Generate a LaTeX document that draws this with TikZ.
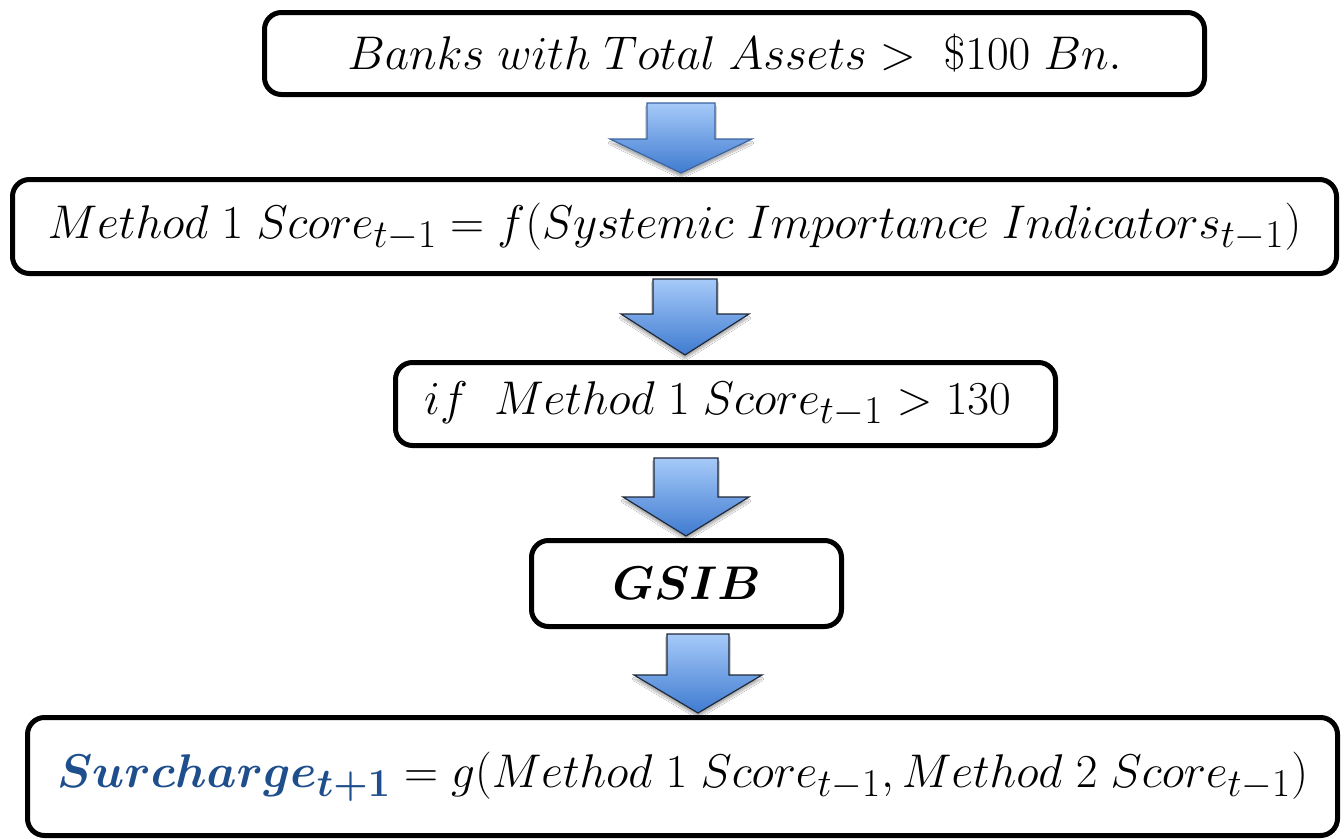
\documentclass[tikz,border=0pt]{standalone}
\usepackage{amsmath,bm,graphicx}
\usetikzlibrary{calc,shadows.blur}
\definecolor{surblue}{HTML}{1F4E8C}
\definecolor{arrtop}{HTML}{A6CAF9}
\definecolor{arrbot}{HTML}{3F7BD0}
\definecolor{arredge}{HTML}{3C64A0}
\definecolor{arredgedark}{HTML}{1E2838}
\newcommand\bigtxt[1]{\scalebox{1.9}{#1}}
\tikzset{
  box/.style={draw=black, line width=5pt, rounded corners=17pt, fill=white, inner sep=0pt,
    font=\fontsize{24.88}{30}\selectfont},
  blockarrow/.style={draw=arredge, line width=1.2pt, top color=arrtop, bottom color=arrbot,
    line join=miter, blur shadow={shadow xshift=0pt, shadow yshift=-4pt, shadow blur steps=6, shadow opacity=30}},
  darkedge/.style={draw=arredgedark},
}
% style, name, x, top, shoulder, tip, shaft half width, head half width
\newcommand\blockarr[8]{%
  \coordinate (#2top) at (#3,#4);
  \coordinate (#2tip) at (#3,#6);
  \draw[blockarrow,#1] ($(#2top)+(-#7,0)$) -- ($(#2top)+(#7,0)$) -- (#3+#7,#5) -- (#3+#8,#5)
    -- (#2tip) -- (#3-#8,#5) -- (#3-#7,#5) -- cycle;}
\begin{document}
\begin{tikzpicture}[x=1pt,y=-1pt]
\useasboundingbox (0,0) rectangle (1344,838);
\fill[white] (0,0) rectangle (1344,838);
% block arrows
\blockarr{}{a1}{681}{103}{139}{173}{34}{71}
\blockarr{darkedge}{a2}{685}{279}{314}{355}{32}{64}
\blockarr{darkedge}{a3}{686}{458}{497}{536}{32}{63}
\blockarr{darkedge}{a4}{698}{634}{675}{713}{31}{64}
% boxes
\node[box, minimum width=940pt, minimum height=82pt] (b1) at (734.5,53.5)
  {\bigtxt{$Banks\;with\;Total\;Assets >\ \$100\;Bn.$}};
\node[box, minimum width=1324pt, minimum height=94pt] (b2) at (674.5,226.5)
  {\bigtxt{$Method\;1\;Score_{t-1} = f(Systemic\;Importance\;Indicators_{t-1})$}};
\node[box, minimum width=660pt, minimum height=83pt] (b3) at (725.5,404)
  {\hspace*{-16pt}\bigtxt{$if\;\;Method\;1\;Score_{t-1} > 130$}};
\node[box, minimum width=310pt, minimum height=86pt] (b4) at (686.5,583.5)
  {\bigtxt{$\bm{GSIB}$}};
\node[box, minimum width=1310pt, minimum height=118pt] (b5) at (682.5,776.5)
  {\bigtxt{$\color{surblue}\bm{Surcharge_{t+1}}\color{black} = g(Method\;1\;Score_{t-1}, Method\;2\;Score_{t-1})$}};
\end{tikzpicture}
\end{document}
